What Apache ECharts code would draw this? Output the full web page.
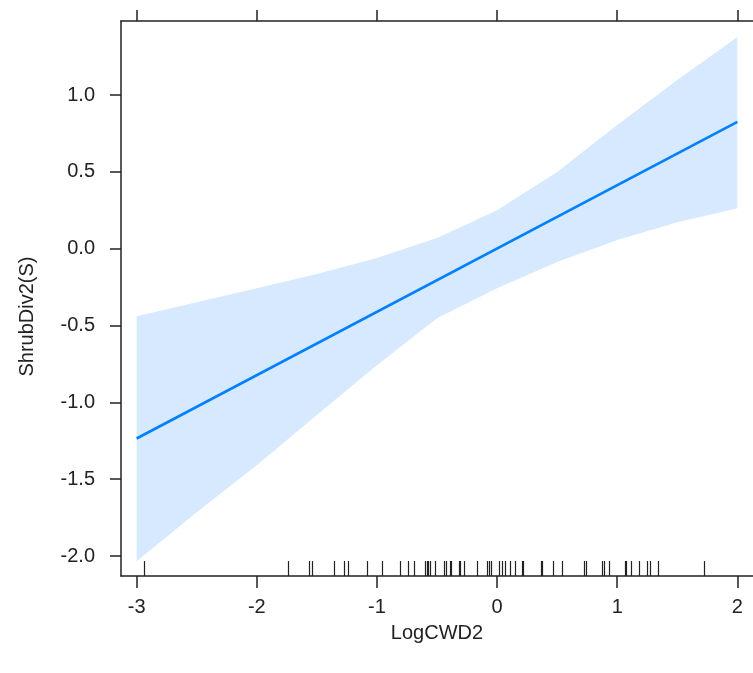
<!DOCTYPE html>
<html>
<head>
<meta charset="utf-8">
<script src="https://cdn.jsdelivr.net/npm/echarts@6/dist/echarts.min.js"></script>
<style>html,body{margin:0;padding:0;background:#fff}#c{width:753px;height:673px}</style>
</head>
<body>
<div id="c"></div>
<script>
// fitted effect line endpoints
const lineX = [-3, 2];
const lineY = [-1.235, 0.825];
// confidence band
const bandX = [-3, -2.5, -2, -1.5, -1, -0.5, 0, 0.5, 1, 1.5, 2];
const bandUpper = [-0.439, -0.348, -0.257, -0.165, -0.061, 0.069, 0.251, 0.499, 0.805, 1.098, 1.378];
const bandLower = [-2.034, -1.715, -1.409, -1.083, -0.758, -0.452, -0.257, -0.087, 0.056, 0.173, 0.264];
// rug of observed LogCWD2 values
const rugX = [-2.937, -1.741, -1.566, -1.538, -1.359, -1.270, -1.243, -1.085, -0.960, -0.805, -0.744, -0.694,
  -0.600, -0.586, -0.572, -0.556, -0.517, -0.439, -0.425, -0.392, -0.384, -0.321, -0.309, -0.274, -0.168,
  -0.085, -0.070, -0.047, 0.017, 0.037, 0.065, 0.106, 0.153, 0.209, 0.217, 0.364, 0.370, 0.468, 0.541,
  0.723, 0.743, 0.873, 0.894, 0.931, 1.068, 1.076, 1.114, 1.181, 1.247, 1.269, 1.336, 1.721];
const xTicks = [-3, -2, -1, 0, 1, 2];
const yTicks = [-2.0, -1.5, -1.0, -0.5, 0.0, 0.5, 1.0];

const X_MIN = -3.13, X_MAX = 2.13, Y_MIN = -2.13, Y_MAX = 1.482;
const FONT = 'Liberation Sans, Arial, sans-serif';
const TXT = '#222';
const AX = '#222';

const chart = echarts.init(document.getElementById('c'), null, {renderer: 'canvas'});
chart.setOption({
  animation: false,
  backgroundColor: '#fff',
  grid: {left: 121, top: 21, right: -2, bottom: 97, containLabel: false},
  xAxis: [{
    type: 'value', min: X_MIN, max: X_MAX, position: 'bottom',
    name: 'LogCWD2', nameLocation: 'middle', nameGap: 47,
    nameTextStyle: {fontFamily: FONT, fontSize: 20, color: TXT},
    axisLine: {show: true, onZero: false, lineStyle: {color: AX, width: 1.5}},
    axisTick: {show: true, inside: false, length: 12, lineStyle: {color: AX, width: 1.5},
      customValues: xTicks},
    axisLabel: {show: true, margin: 21, fontFamily: FONT, fontSize: 20, color: TXT,
      customValues: xTicks, formatter: v => String(v)},
    splitLine: {show: false}
  }, {
    type: 'value', min: X_MIN, max: X_MAX, position: 'top',
    axisLine: {show: true, onZero: false, lineStyle: {color: AX, width: 1.5}},
    axisTick: {show: true, inside: false, length: 11, lineStyle: {color: AX, width: 1.5},
      customValues: xTicks},
    axisLabel: {show: false},
    splitLine: {show: false}
  }],
  yAxis: [{
    type: 'value', min: Y_MIN, max: Y_MAX, position: 'left',
    name: 'ShrubDiv2(S)', nameLocation: 'middle', nameGap: 84, nameRotate: 90,
    nameTextStyle: {fontFamily: FONT, fontSize: 20, color: TXT, padding: [0, 36, 0, 0]},
    axisLine: {show: true, onZero: false, lineStyle: {color: AX, width: 1.5}},
    axisTick: {show: true, inside: false, length: 11, lineStyle: {color: AX, width: 1.5},
      customValues: yTicks},
    axisLabel: {show: true, margin: 26, fontFamily: FONT, fontSize: 20, color: TXT,
      customValues: yTicks, formatter: v => v.toFixed(1)},
    splitLine: {show: false}
  }],
  series: [{
    type: 'custom',
    coordinateSystem: 'cartesian2d',
    data: [[0, 0]],
    silent: true,
    z: 1,
    renderItem: function (params, api) {
      const pts = [];
      for (let i = 0; i < bandX.length; i++) pts.push(api.coord([bandX[i], bandUpper[i]]));
      for (let i = bandX.length - 1; i >= 0; i--) pts.push(api.coord([bandX[i], bandLower[i]]));
      return {type: 'polygon', shape: {points: pts}, style: {fill: 'rgb(214,233,255)', stroke: null}};
    }
  }, {
    type: 'line',
    data: lineX.map((x, i) => [x, lineY[i]]),
    showSymbol: false, symbol: 'none',
    lineStyle: {color: '#0080ff', width: 2.6},
    z: 3
  }, {
    type: 'custom',
    coordinateSystem: 'cartesian2d',
    data: rugX.map(x => [x, Y_MIN]),
    silent: true,
    z: 4,
    renderItem: function (params, api) {
      const p = api.coord([api.value(0), Y_MIN]);
      const x = Math.round(p[0]) + 0.5;
      return {type: 'line', shape: {x1: x, y1: p[1], x2: x, y2: p[1] - 15},
        style: {stroke: '#222', lineWidth: 1.2}};
    }
  }]
});
</script>
</body>
</html>
